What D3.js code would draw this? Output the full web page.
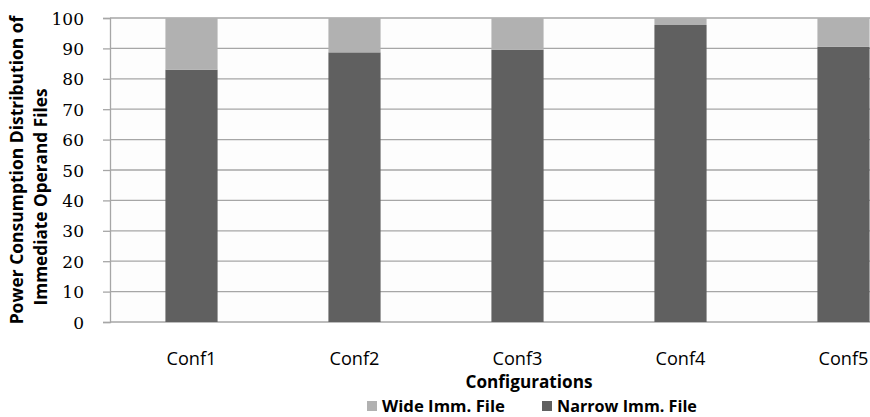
<!DOCTYPE html>
<html><head><meta charset="utf-8">
<script src="https://cdn.jsdelivr.net/npm/d3@7"></script>
<style>body{margin:0;background:#fff}</style>
</head><body>
<svg id="c" width="870" height="417"></svg>
<script>
const categories = ["Conf1","Conf2","Conf3","Conf4","Conf5"];
const narrow = [83, 88.7, 89.6, 97.7, 90.5];
const wide = narrow.map(v => 100 - v);
const seriesNames = ["Wide Imm. File","Narrow Imm. File"];
const yTicks = [0,10,20,30,40,50,60,70,80,90,100];
const colors = {narrow:"#606060", wide:"#b1b1b1"};

const svg = d3.select("#c");
const mLeft = 110, mRight = 925, mTop = 18, mBottom = 322;
const x = d3.scaleBand().domain(categories).range([mLeft, mRight]).paddingInner(0.68).paddingOuter(0.34);
const y = d3.scaleLinear().domain([0,100]).range([mBottom, mTop]);

// scale font so a text reaches a target width
function fit(sel, target){
  sel.each(function(){
    const fs = parseFloat(this.getAttribute("font-size"));
    const w = this.getComputedTextLength();
    if (w > 0) this.setAttribute("font-size", (fs * target / w).toFixed(2) + "px");
  });
}

svg.append("rect").attr("x", mLeft).attr("y", mTop).attr("width", 870 - mLeft).attr("height", mBottom - mTop).attr("fill", "#fdfdfd");

// gridlines
svg.append("g").selectAll("line").data(yTicks).join("line")
  .attr("x1", mLeft).attr("x2", 870).attr("y1", d=>y(d)).attr("y2", d=>y(d))
  .attr("stroke", "#a6a6a6").attr("stroke-width", 1.3);

// y axis
const ya = svg.append("g").attr("transform", `translate(${mLeft},0)`)
  .call(d3.axisLeft(y).tickValues(yTicks).tickSize(7).tickPadding(19));
ya.select(".domain").attr("stroke","#a6a6a6").attr("stroke-width",1.3);
ya.selectAll(".tick line").attr("stroke","#a6a6a6").attr("stroke-width",1.3);
ya.selectAll("text").attr("font-family","DejaVu Serif").attr("font-size","17px").attr("fill","#000").attr("dy","0.36em");

// bars
const g = svg.append("g");
g.selectAll(".n").data(categories).join("rect")
  .attr("x", d=>x(d)).attr("width", x.bandwidth())
  .attr("y", (d,i)=>y(narrow[i])).attr("height", (d,i)=>y(0)-y(narrow[i]))
  .attr("fill", colors.narrow);
g.selectAll(".w").data(categories).join("rect")
  .attr("x", d=>x(d)).attr("width", x.bandwidth())
  .attr("y", (d,i)=>y(narrow[i]+wide[i])).attr("height", (d,i)=>y(narrow[i])-y(narrow[i]+wide[i]))
  .attr("fill", colors.wide);

// x axis labels
const xa = svg.append("g").attr("transform", `translate(0,${mBottom})`)
  .call(d3.axisBottom(x).tickSize(0));
xa.select(".domain").remove();
xa.selectAll("text").attr("font-family","Open Sans").attr("font-size","18px").attr("fill","#000")
  .attr("y", 43).attr("dy", 0);
fit(xa.selectAll("text"), 50);

// x title
const xt = svg.append("text").attr("x", 529).attr("y", 388).attr("text-anchor","middle")
  .attr("font-family","Open Sans").attr("font-weight","bold").attr("font-size","16px").text("Configurations");
fit(xt, 127);

// y title
const yt1 = svg.append("text").attr("transform","translate(23,170) rotate(-90)")
  .attr("text-anchor","middle").attr("font-family","Open Sans").attr("font-weight","bold").attr("font-size","16px")
  .text("Power Consumption Distribution of");
fit(yt1, 309);
const yt2 = svg.append("text").attr("transform","translate(47,197) rotate(-90)")
  .attr("text-anchor","middle").attr("font-family","Open Sans").attr("font-weight","bold").attr("font-size","16px")
  .text("Immediate Operand Files");
fit(yt2, 217);

// legend
const legend = [{name:seriesNames[0], c:colors.wide, x:367, w:123},{name:seriesNames[1], c:colors.narrow, x:542, w:140}];
const lg = svg.append("g").selectAll("g").data(legend).join("g").attr("transform", d=>`translate(${d.x},401)`);
lg.append("rect").attr("width",10).attr("height",10).attr("fill", d=>d.c);
lg.append("text").attr("x",15).attr("y",10.5).attr("font-family","Open Sans").attr("font-weight","bold")
  .attr("font-size","14px").text(d=>d.name)
  .each(function(d){ fit(d3.select(this), d.w); });
</script>
</body></html>
